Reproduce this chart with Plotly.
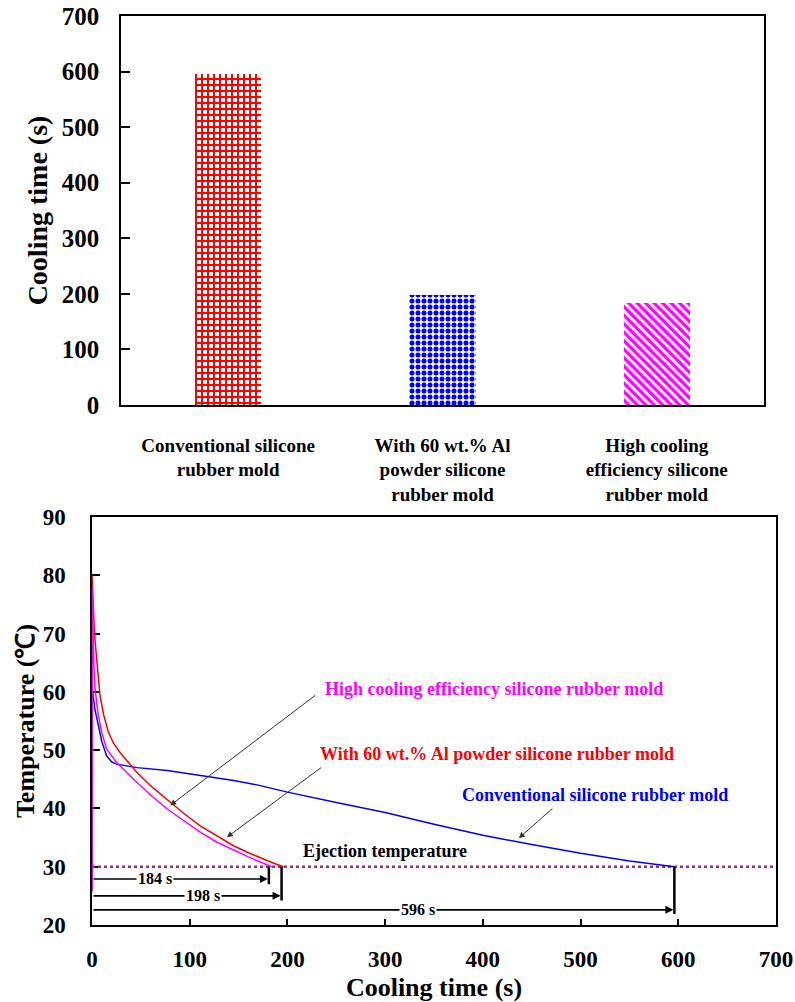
import plotly.graph_objects as go

# ---------------- data ----------------
categories = ["Conventional silicone<br>rubber mold",
              "With 60 wt.% Al<br>powder silicone<br>rubber mold",
              "High cooling<br>efficiency silicone<br>rubber mold"]
cooling_times = [596, 198, 184]
bar_colors = ["#FF0000", "#0000FF", "#FF00FF"]
bar_patterns = ["+", ".", "\\"]

# cooling curves (time s, temperature C)
t_conv = [0, 0.3, 3, 6.5, 10, 15, 20, 25, 46, 77, 111, 145, 170, 200, 250, 300, 350, 400, 450, 500, 550, 596]
T_conv = [26, 60.5, 57, 54, 51.5, 49, 48, 47.6, 47.0, 46.5, 45.6, 44.8, 44.0, 42.8, 41.0, 39.3, 37.3, 35.4, 33.8, 32.3, 31.0, 30.0]

t_al = [0, 1, 2.5, 4.8, 8.2, 12, 16.7, 22, 28.7, 45.8, 62, 79.9, 95, 110.7, 128, 144.8, 160, 175.5, 186, 196]
T_al = [80, 76, 70, 65.6, 59.4, 56, 53.1, 51.2, 49.6, 46.2, 43.6, 41.1, 39.0, 37.0, 35.2, 33.6, 32.4, 31.3, 30.6, 30.0]

t_high = [0, 0.3, 1, 2, 3.1, 6.5, 10, 15, 25, 42, 60, 77, 95, 111, 128, 145, 160, 172, 184]
T_high = [25.7, 78, 70, 64, 60.5, 55.9, 53, 50.2, 47.9, 45.1, 42.3, 39.9, 37.8, 35.9, 34.2, 32.8, 31.7, 30.8, 30.0]

ejection_temp = 30
eject_labels = ["184 s", "198 s", "596 s"]
eject_marks = [181, 194, 596]          # where the drop lines are drawn
eject_arrow_T = [27.9, 25.0, 22.6]      # level of each arrow
eject_bottom_T = [27.0, 24.2, 21.9]     # bottom of each drop line
eject_label_t = [64, 114, 334]

FONT = "Liberation Serif, Times New Roman, serif"

fig = go.Figure()

# ---------------- top bar chart ----------------
for cat, val, col, pat in zip(categories, cooling_times, bar_colors, bar_patterns):
    fig.add_trace(go.Bar(
        x=[cat], y=[val], width=0.31, xaxis="x", yaxis="y",
        marker=dict(color=col, line=dict(width=0),
                    pattern=dict(shape=pat, fgcolor=col, bgcolor="white",
                                 size=6, solidity=0.55, fillmode="replace")),
        showlegend=False, hoverinfo="skip"))

# ---------------- bottom line chart ----------------
fig.add_trace(go.Scatter(x=[0, 700], y=[ejection_temp, ejection_temp], mode="lines",
                         line=dict(color="#9B2D7F", width=2.5, dash="dot"),
                         xaxis="x2", yaxis="y2", showlegend=False, hoverinfo="skip"))
fig.add_trace(go.Scatter(x=t_conv, y=T_conv, mode="lines", line=dict(color="#0000FF", width=1.5),
                         xaxis="x2", yaxis="y2", showlegend=False))
fig.add_trace(go.Scatter(x=t_al, y=T_al, mode="lines", line=dict(color="#FF0000", width=1.5),
                         xaxis="x2", yaxis="y2", showlegend=False))
fig.add_trace(go.Scatter(x=t_high, y=T_high, mode="lines", line=dict(color="#FF00FF", width=1.5),
                         xaxis="x2", yaxis="y2", showlegend=False))

shapes = []
annotations = []
for lab, tm, aT, bT, lt in zip(eject_labels, eject_marks, eject_arrow_T, eject_bottom_T, eject_label_t):
    shapes.append(dict(type="line", xref="x2", yref="y2", x0=tm, x1=tm, y0=ejection_temp, y1=bT,
                       line=dict(color="black", width=2.5)))
    annotations.append(dict(xref="x2", yref="y2", x=tm - 1, y=aT, ax=0, ay=aT,
                            axref="x2", ayref="y2", text="", showarrow=True,
                            arrowhead=2, arrowsize=1, arrowwidth=1.6, arrowcolor="black"))
    annotations.append(dict(xref="x2", yref="y2", x=lt, y=aT, text=lab, showarrow=False,
                            bgcolor="white", borderpad=1,
                            font=dict(family=FONT, size=16, color="black", weight="bold")))

curve_labels = [
    ("High cooling efficiency silicone rubber mold", "#FF00FF", 411, 60.5, 230, 59.6, 80, 40.5),
    ("With 60 wt.% Al powder silicone rubber mold", "#FF0000", 414, 49.3, 236, 47.2, 138, 35.05),
    ("Conventional silicone rubber mold", "#0000FF", 515, 42.3, 472.6, 40.2, 436.8, 34.9),
]
for txt, col, tx, ty, ax, ay, hx, hy in curve_labels:
    annotations.append(dict(xref="x2", yref="y2", x=tx, y=ty, text=txt, showarrow=False,
                            font=dict(family=FONT, size=18, color=col, weight="bold")))
    annotations.append(dict(xref="x2", yref="y2", x=hx, y=hy, ax=ax, ay=ay, axref="x2", ayref="y2",
                            text="", showarrow=True, arrowhead=2, arrowsize=1.2,
                            arrowwidth=1, arrowcolor="#333333"))
annotations.append(dict(xref="x2", yref="y2", x=300, y=32.7, text="Ejection temperature",
                        showarrow=False, font=dict(family=FONT, size=18, color="black", weight="bold")))

W, H = 795, 1002
fig.update_layout(
    width=W, height=H, margin=dict(l=0, r=0, t=0, b=0, autoexpand=False),
    paper_bgcolor="white", plot_bgcolor="white",
    font=dict(family=FONT, color="black"),
    bargap=0,
    shapes=shapes, annotations=annotations,
    xaxis=dict(domain=[121 / W, 764 / W], anchor="y", type="category", automargin=False,
               showline=True, linecolor="black", linewidth=1.5, mirror=True,
               ticks="outside", ticklen=0, tickcolor="rgba(0,0,0,0)", ticklabelstandoff=22,
               tickfont=dict(family=FONT, size=19, weight="bold"), showgrid=False),
    yaxis=dict(domain=[1 - 405 / H, 1 - 16 / H], anchor="x", range=[0, 700], dtick=100,
               automargin=False,
               showline=True, linecolor="black", linewidth=1.5, mirror=True,
               ticks="inside", ticklen=9, tickwidth=1.5, tickcolor="black",
               ticklabelstandoff=15,
               tickfont=dict(family=FONT, size=25, weight="bold"), showgrid=False, zeroline=False,
               title=dict(text="Cooling time (s)", standoff=6,
                          font=dict(family=FONT, size=28, weight="bold"))),
    xaxis2=dict(domain=[92 / W, 776 / W], anchor="y2", range=[0, 700], dtick=100,
                automargin=False,
                showline=True, linecolor="black", linewidth=1.5, mirror=True,
                ticks="inside", ticklen=6, tickwidth=1.5, tickcolor="black",
                ticklabelstandoff=13, layer="below traces",
                tickfont=dict(family=FONT, size=23, weight="bold"), showgrid=False, zeroline=False,
                title=dict(text="Cooling time (s)", standoff=10,
                           font=dict(family=FONT, size=26, weight="bold"))),
    yaxis2=dict(domain=[1 - 925 / H, 1 - 517 / H], anchor="x2", range=[20, 90], dtick=10,
                automargin=False,
                showline=True, linecolor="black", linewidth=1.5, mirror=True,
                ticks="inside", ticklen=8, tickwidth=1.5, tickcolor="black",
                ticklabelstandoff=20, layer="below traces",
                tickfont=dict(family=FONT, size=23, weight="bold"), showgrid=False, zeroline=False,
                title=dict(text="Temperature (℃)", standoff=1,
                           font=dict(family=FONT, size=26, weight="bold"))),
)

fig.write_html("out.html")
